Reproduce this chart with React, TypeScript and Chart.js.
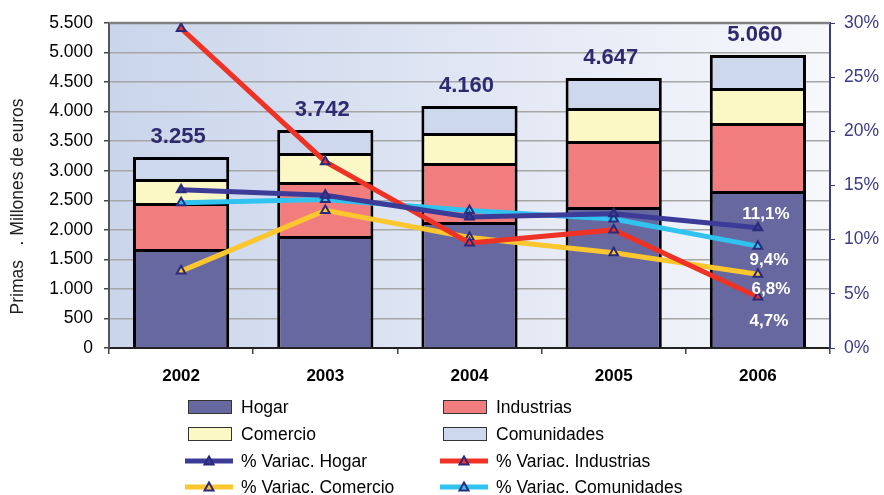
import React, { useEffect, useRef } from "react";
import { Chart, registerables } from "chart.js";

Chart.register(...registerables);

const FONT = '"Liberation Sans", Arial, sans-serif';

const categories = ["2002", "2003", "2004", "2005", "2006"];
const hogar = [1675, 1895, 2132, 2386, 2657];
const industrias = [779, 914, 999, 1117, 1151];
const comercio = [406, 491, 507, 559, 592];
const comunidades = [372, 389, 457, 507, 558];
const totals = [3255, 3742, 4160, 4647, 5060];

const varHogar = [14.6, 14.1, 12.1, 12.4, 11.1];
const varIndustrias = [29.5, 17.2, 9.7, 10.9, 4.7];
const varComercio = [7.1, 12.7, 10.2, 8.8, 6.8];
const varComunidades = [13.4, 13.7, 12.7, 11.9, 9.4];

const barNames = ["Hogar", "Industrias", "Comercio", "Comunidades"];
const barColors = ["#66689f", "#f27d7f", "#fbf8c6", "#cdd8ec"];
const lineNames = ["% Variac. Hogar", "% Variac. Industrias", "% Variac. Comercio", "% Variac. Comunidades"];
const lineColors = ["#3c3b98", "#ee3326", "#fcc62e", "#30c3ef"];
const yTitle = "Primas   . Millones de euros";

const NAVY = "#2d2a70";
const MARK = "#2b2a7c";

const fmtThousands = (n: number) => String(Math.round(n)).replace(/\B(?=(\d{3})+(?!\d))/g, ".");
const fmtPct = (v: number) => v.toFixed(1).replace(".", ",") + "%";

// offsets of the end labels relative to the last point of each line
const endLabelOffsets: [number, number][] = [
  [8, -13],
  [11, 24],
  [13, 15],
  [11, 14],
];

const decorPlugin = {
  id: "decor",
  beforeDraw(chart: any) {
    const { ctx, chartArea } = chart;
    const { left, top, right, bottom } = chartArea;
    const g = ctx.createLinearGradient(left, 0, right, 0);
    g.addColorStop(0, "#cad5eb");
    g.addColorStop(1, "#f7f8fc");
    ctx.save();
    ctx.fillStyle = g;
    ctx.fillRect(left, top, right - left, bottom - top);
    ctx.restore();
  },
  beforeDatasetsDraw(chart: any) {
    const { ctx, chartArea } = chart;
    ctx.save();
    ctx.strokeStyle = "#808080";
    ctx.lineWidth = 2.5;
    ctx.beginPath();
    ctx.moveTo(chartArea.left, chartArea.top);
    ctx.lineTo(chartArea.right, chartArea.top);
    ctx.stroke();
    ctx.restore();
  },
  afterDatasetsDraw(chart: any) {
    const { ctx } = chart;
    ctx.save();
    const topMeta = chart.getDatasetMeta(3);
    ctx.font = `bold 22px ${FONT}`;
    ctx.fillStyle = NAVY;
    ctx.textAlign = "center";
    ctx.textBaseline = "middle";
    topMeta.data.forEach((el: any, i: number) => {
      ctx.fillText(fmtThousands(totals[i]), el.x - 3, el.y - 20);
    });
    ctx.font = `bold 17px ${FONT}`;
    ctx.fillStyle = "#ffffff";
    for (let k = 0; k < 4; k++) {
      const meta = chart.getDatasetMeta(4 + k);
      const last = meta.data[meta.data.length - 1];
      const vals = chart.data.datasets[4 + k].data;
      const v = vals[vals.length - 1];
      ctx.fillText(fmtPct(v), last.x + endLabelOffsets[k][0], last.y + endLabelOffsets[k][1]);
    }
    ctx.restore();
  },
  afterDraw(chart: any) {
    const { ctx, chartArea } = chart;
    ctx.save();
    ctx.translate(18, (chartArea.top + chartArea.bottom) / 2 + 21);
    ctx.rotate(-Math.PI / 2);
    ctx.font = `17.5px ${FONT}`;
    ctx.fillStyle = "#222";
    ctx.textAlign = "center";
    ctx.textBaseline = "middle";
    ctx.fillText(yTitle, 0, 0);
    ctx.restore();
  },
};

function BarSwatch({ color }: { color: string }) {
  return (
    <div
      style={{
        width: 42,
        height: 12,
        background: color,
        border: "1.5px solid #333",
      }}
    />
  );
}

function LineSwatch({ color }: { color: string }) {
  return (
    <svg width={48} height={16} style={{ display: "block" }}>
      <line x1={0} y1={8} x2={48} y2={8} stroke={color} strokeWidth={5} />
      <polygon points="24,3.5 28.5,11.5 19.5,11.5" fill={color} stroke={MARK} strokeWidth={2} />
    </svg>
  );
}

export default function App() {
  const ref = useRef<HTMLCanvasElement | null>(null);

  useEffect(() => {
    if (!ref.current) return;
    const barSeries = [hogar, industrias, comercio, comunidades];
    const lineSeries = [varHogar, varIndustrias, varComercio, varComunidades];
    const datasets: any[] = [];
    barSeries.forEach((d, i) => {
      datasets.push({
        type: "bar",
        label: barNames[i],
        data: d,
        backgroundColor: barColors[i],
        borderColor: "#000",
        borderWidth: 3,
        barPercentage: 0.667,
        categoryPercentage: 1,
        yAxisID: "y",
        order: 2,
      });
    });
    lineSeries.forEach((d, i) => {
      datasets.push({
        type: "line",
        label: lineNames[i],
        data: d,
        borderColor: lineColors[i],
        backgroundColor: lineColors[i],
        borderWidth: 5,
        tension: 0,
        pointStyle: "triangle",
        pointRadius: 5,
        pointBorderColor: MARK,
        pointBackgroundColor: lineColors[i],
        pointBorderWidth: 2,
        yAxisID: "y1",
        order: 1,
      });
    });

    const chart = new Chart(ref.current, {
      type: "bar",
      data: { labels: categories, datasets },
      options: {
        responsive: false,
        animation: false,
        layout: { padding: { top: 23, bottom: 105, left: 0, right: 0 } },
        plugins: { legend: { display: false }, tooltip: { enabled: false } },
        scales: {
          x: {
            stacked: true,
            grid: { drawOnChartArea: false, offset: true, tickLength: 6, tickColor: "#444", lineWidth: 1.5 },
            border: { color: "#222", width: 2 },
            ticks: { color: "#000", font: { family: FONT, size: 17, weight: "bold" }, padding: 12 },
            afterFit: (s: any) => {
              s.height = 42;
            },
          },
          y: {
            stacked: true,
            min: 0,
            max: 5500,
            ticks: {
              stepSize: 500,
              color: "#000",
              font: { family: FONT, size: 17.5 },
              padding: 11,
              callback: (v: any) => fmtThousands(Number(v)),
            },
            grid: { color: "#a6a6a6", lineWidth: 1.5, tickLength: 5, tickColor: "#444" },
            border: { color: "#555", width: 2 },
            afterFit: (s: any) => {
              s.width = 109;
            },
          },
          y1: {
            position: "right",
            min: 0,
            max: 30,
            ticks: {
              stepSize: 5,
              color: "#3b3a86",
              font: { family: FONT, size: 17.5 },
              padding: 9,
              callback: (v: any) => v + "%",
            },
            grid: { drawOnChartArea: false, tickLength: 5, tickColor: "#3b3a86" },
            border: { color: "#3b3a86", width: 2 },
            afterFit: (s: any) => {
              s.width = 54;
            },
          },
        },
      } as any,
      plugins: [decorPlugin],
    });
    return () => chart.destroy();
  }, []);

  const legendItems: { name: string; color: string; kind: "bar" | "line" }[] = [];
  for (let i = 0; i < 4; i++) legendItems.push({ name: barNames[i], color: barColors[i], kind: "bar" });
  for (let i = 0; i < 4; i++) legendItems.push({ name: lineNames[i], color: lineColors[i], kind: "line" });

  const rowY = [407, 434, 461, 487];
  const colSwatchX = [188, 443];
  const colTextX = [241, 496];

  return (
    <div style={{ position: "fixed", left: 0, top: 0, width: 884, height: 495, background: "#fff", overflow: "hidden" }}>
      <canvas ref={ref} width={884} height={495} style={{ position: "absolute", left: 0, top: 0, width: 884, height: 495 }} />
      {legendItems.map((it, idx) => {
        const row = Math.floor(idx / 2);
        const col = idx % 2;
        const y = rowY[row];
        return (
          <React.Fragment key={it.name}>
            <div
              style={{
                position: "absolute",
                left: it.kind === "bar" ? colSwatchX[col] : colSwatchX[col] - 3,
                top: it.kind === "bar" ? y - 7.5 : y - 8,
              }}
            >
              {it.kind === "bar" ? <BarSwatch color={it.color} /> : <LineSwatch color={it.color} />}
            </div>
            <div
              style={{
                position: "absolute",
                left: colTextX[col],
                top: y - 11,
                height: 22,
                lineHeight: "22px",
                fontFamily: FONT,
                fontSize: 17.5,
                color: "#000",
                whiteSpace: "nowrap",
              }}
            >
              {it.name}
            </div>
          </React.Fragment>
        );
      })}
    </div>
  );
}
